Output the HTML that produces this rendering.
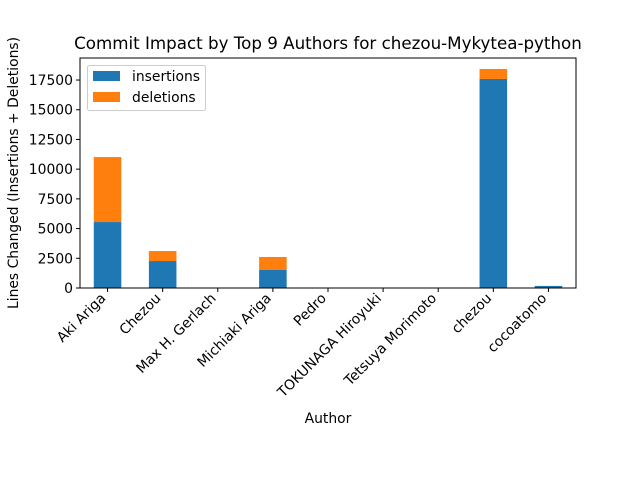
<!DOCTYPE html>
<html><head><meta charset="utf-8"><style>
body{margin:0;background:#fff}
svg{display:block;font-family:"DejaVu Sans","Liberation Sans",sans-serif}
</style></head><body>
<svg id="chart" width="640" height="480" xmlns="http://www.w3.org/2000/svg">
<rect width="640" height="480" fill="#fff"/>
<text x="328" y="49" font-size="16.7" text-anchor="middle" fill="#000">Commit Impact by Top 9 Authors for chezou-Mykytea-python</text>
<g id="bars"></g>
<g id="yaxis"></g>
<g id="xaxis"></g>
<rect x="80" y="58" width="496" height="230" fill="none" stroke="#000" stroke-width="1"/>
<text x="328" y="423" font-size="13.9" text-anchor="middle">Author</text>
<text transform="translate(18,173) rotate(-90)" font-size="13.9" text-anchor="middle">Lines Changed (Insertions + Deletions)</text>
<g>
<rect x="87.5" y="65.5" width="118" height="45" rx="2" fill="#fff" stroke="#ccc"/>
<rect x="93" y="71" width="27" height="10" fill="#1f77b4"/>
<text x="132" y="81" font-size="13.9">insertions</text>
<rect x="93" y="92" width="27" height="10" fill="#ff7f0e"/>
<text x="132" y="102" font-size="13.9">deletions</text>
</g>
</svg>
<script>
const authors = ["Aki Ariga","Chezou","Max H. Gerlach","Michiaki Ariga","Pedro","TOKUNAGA Hiroyuki","Tetsuya Morimoto","chezou","cocoatomo"];
const insertions = [5550,2270,10,1515,5,5,5,17590,170];
const deletions = [5470,840,5,1095,2,2,2,840,10];
const yTicks = [0,2500,5000,7500,10000,12500,15000,17500];
const yMax = 19354;
const L=80,R=576,T=58,B=288;
const NS="http://www.w3.org/2000/svg";
function xScale(i){return L+(i+0.5)*(R-L)/authors.length;}
function yScale(v){return B-v/yMax*(B-T);}
function mk(tag,attrs,parent){const e=document.createElementNS(NS,tag);for(const k in attrs)e.setAttribute(k,attrs[k]);parent.appendChild(e);return e;}
const bars=document.getElementById('bars'),ya=document.getElementById('yaxis'),xa=document.getElementById('xaxis');
const bw=(R-L)/authors.length*0.5;
authors.forEach((a,i)=>{
  const x=xScale(i)-bw/2;
  const r1=mk('rect',{x:x,y:yScale(insertions[i]),width:bw,height:B-yScale(insertions[i]),fill:'#1f77b4'},bars);
  
  
  const top=insertions[i]+deletions[i];
  const r2=mk('rect',{x:x,y:yScale(top),width:bw,height:yScale(insertions[i])-yScale(top),fill:'#ff7f0e'},bars);
  
  
  const cx=xScale(i);
  const t=mk('line',{x1:cx,x2:cx,y1:B,y2:B+4,stroke:'#000'},xa);
  
  
  const lb=mk('text',{transform:`translate(${cx-1},${B+11}) rotate(-45)`,'font-size':13.9,'text-anchor':'end'},xa);
  lb.textContent=a;
  
  
});
yTicks.forEach(v=>{
  const y=yScale(v);
  const t=mk('line',{x1:L-4,x2:L,y1:y,y2:y,stroke:'#000'},ya);
  
  
  const lb=mk('text',{x:L-7,y:y+5,'font-size':13.9,'text-anchor':'end'},ya);
  lb.textContent=v;
  
  
});
</script>
</body></html>
